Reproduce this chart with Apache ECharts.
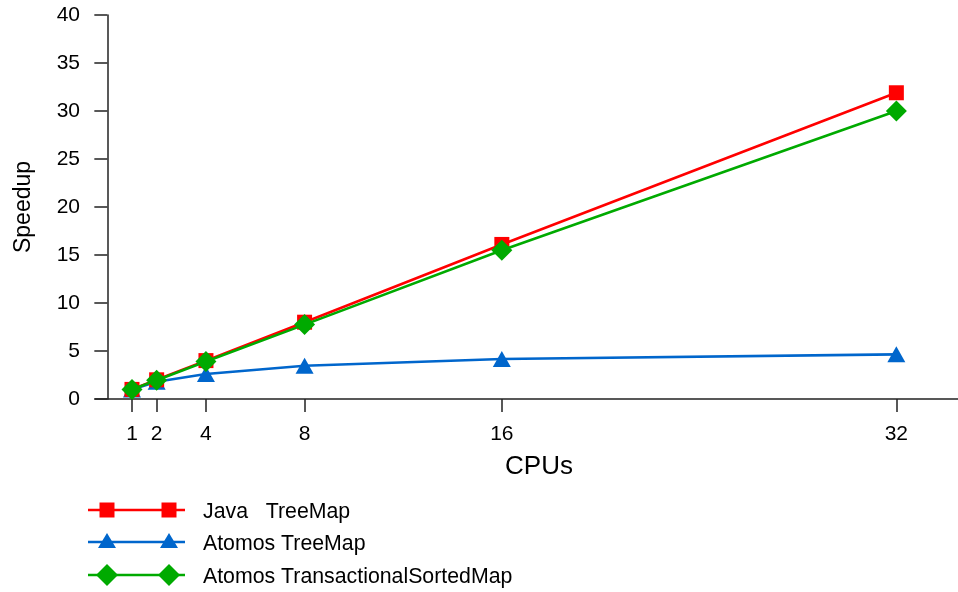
<!DOCTYPE html>
<html>
<head>
<meta charset="utf-8">
<script src="https://cdn.jsdelivr.net/npm/echarts@6/dist/echarts.min.js"></script>
<style>
  html, body { margin: 0; padding: 0; background: #fff; }
  #chart { width: 958px; height: 592px; }
</style>
</head>
<body>
<div id="chart"></div>
<script>
// CPU counts on the x axis (also the tick positions)
const cpus = [1, 2, 4, 8, 16, 32];
// Speedup per CPU count
const javaTreeMap = [1, 2, 4, 8, 16.1, 31.9];
const atomosTreeMap = [1.0, 1.8, 2.6, 3.47, 4.17, 4.65];
const atomosSortedMap = [1, 1.95, 3.9, 7.75, 15.5, 30.0];
const seriesNames = ['Java   TreeMap', 'Atomos TreeMap', 'Atomos TransactionalSortedMap'];
const yTicks = [0, 5, 10, 15, 20, 25, 30, 35, 40];

const RED = '#ff0000', BLUE = '#0066cc', GREEN = '#00aa00';
const FONT = 'Liberation Sans, Arial, sans-serif';
const AXIS = '#222';

const pairs = (ys) => cpus.map((c, i) => [c, ys[i]]);

const chart = echarts.init(document.getElementById('chart'));

// legend rows: line with two markers and a label
const legendRows = [
  { name: seriesNames[0], color: RED, y: 510, shape: 'square' },
  { name: seriesNames[1], color: BLUE, y: 542, shape: 'triangle' },
  { name: seriesNames[2], color: GREEN, y: 575, shape: 'diamond' }
];
function marker(shape, cx, cy, color) {
  if (shape === 'square') {
    return { type: 'rect', shape: { x: cx - 7.5, y: cy - 7.5, width: 15, height: 15 }, style: { fill: color } };
  }
  if (shape === 'triangle') {
    return { type: 'polygon', shape: { points: [[cx, cy - 9], [cx + 9, cy + 6], [cx - 9, cy + 6]] }, style: { fill: color } };
  }
  return { type: 'polygon', shape: { points: [[cx, cy - 11], [cx + 11, cy], [cx, cy + 11], [cx - 11, cy]] }, style: { fill: color } };
}
const legendGraphics = [];
legendRows.forEach(r => {
  legendGraphics.push({ type: 'line', shape: { x1: 88, y1: r.y, x2: 185, y2: r.y }, style: { stroke: r.color, lineWidth: 2.6 } });
  legendGraphics.push(marker(r.shape, 107, r.y, r.color));
  legendGraphics.push(marker(r.shape, 169, r.y, r.color));
  legendGraphics.push({ type: 'text', x: 203, y: r.y + 2, style: { text: r.name, fill: '#000', font: '21.3px ' + FONT, textVerticalAlign: 'middle' } });
});

chart.setOption({
  animation: false,
  backgroundColor: '#fff',
  grid: { left: 95, top: 15, width: 863, height: 384, containLabel: false, outerBoundsMode: 'none' },
  xAxis: {
    type: 'value',
    min: -0.5,
    max: 34.5,
    name: 'CPUs',
    nameLocation: 'middle',
    nameGap: 55,
    nameTextStyle: { fontFamily: FONT, fontSize: 26, color: '#000', padding: [0, 0, 0, 25] },
    axisLine: { show: true, onZero: false, lineStyle: { color: AXIS, width: 1.5 } },
    axisTick: { show: true, length: 13, customValues: cpus, lineStyle: { color: AXIS, width: 1.5 } },
    axisLabel: { customValues: cpus, fontFamily: FONT, fontSize: 21, color: '#000', margin: 25 },
    splitLine: { show: false }
  },
  yAxis: {
    type: 'value',
    min: 0,
    max: 40,
    interval: 5,
    name: 'Speedup',
    nameLocation: 'middle',
    nameGap: 60,
    nameTextStyle: { fontFamily: FONT, fontSize: 23, color: '#000' },
    axisLine: { show: true, onZero: true, lineStyle: { color: AXIS, width: 1.5 } },
    axisTick: { show: true, length: 13, lineStyle: { color: AXIS, width: 1.5 } },
    axisLabel: { customValues: yTicks, fontFamily: FONT, fontSize: 21, color: '#000', margin: 15 },
    splitLine: { show: false }
  },
  series: [
    {
      name: seriesNames[1], type: 'line', data: pairs(atomosTreeMap),
      symbol: 'triangle', symbolSize: [18, 16], z: 2,
      itemStyle: { color: BLUE }, lineStyle: { color: BLUE, width: 2.6 }
    },
    {
      name: seriesNames[0], type: 'line', data: pairs(javaTreeMap),
      symbol: 'rect', symbolSize: 15, z: 3,
      itemStyle: { color: RED }, lineStyle: { color: RED, width: 2.6 }
    },
    {
      name: seriesNames[2], type: 'line', data: pairs(atomosSortedMap),
      symbol: 'diamond', symbolSize: 21, z: 4,
      itemStyle: { color: GREEN }, lineStyle: { color: GREEN, width: 2.6 }
    }
  ],
  graphic: legendGraphics
});
</script>
</body>
</html>
